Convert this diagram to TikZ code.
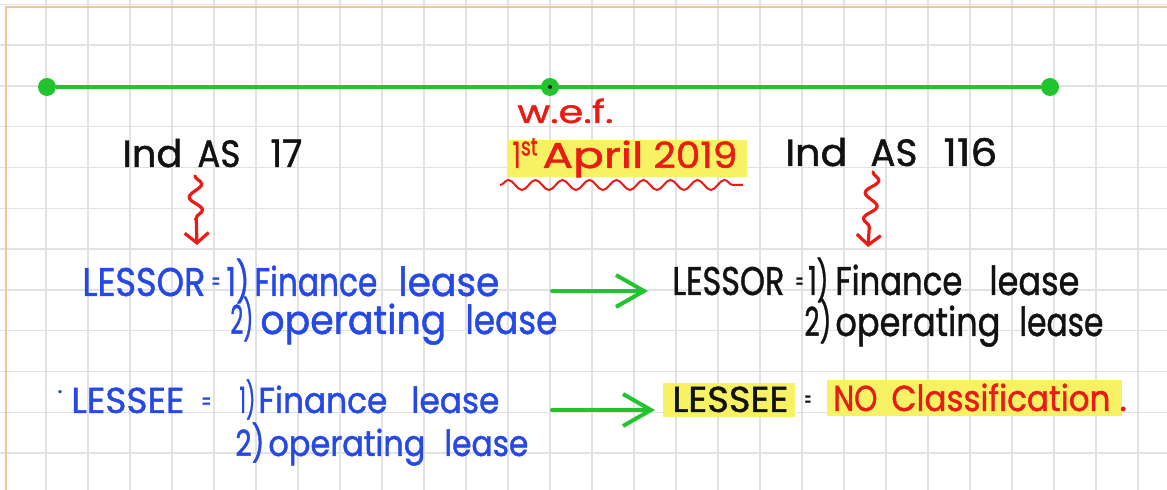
\documentclass[tikz,border=0pt]{standalone}
\usepackage{fontspec}
\usepackage{graphicx}
\usetikzlibrary{decorations.pathmorphing,arrows.meta}

\newfontfamily\handfont[FakeBold=1.2]{Poppins}

\definecolor{gridgray}{RGB}{226,226,226}
\definecolor{pageorange}{RGB}{240,198,145}
\definecolor{linegreen}{RGB}{34,196,46}
\definecolor{penblue}{RGB}{38,72,228}
\definecolor{penred}{RGB}{232,28,20}
\definecolor{penblack}{RGB}{18,18,18}
\definecolor{marker}{RGB}{246,242,100}

% one drawing unit = 0.5pt; words are stretched to a given width in units
\newdimen\unitpx \unitpx=0.5pt
\newcommand\fitw[2]{\resizebox{#1\unitpx}{\height}{#2}}

\tikzset{
  word/.style={inner sep=0pt, anchor=base west},
  big/.style={word, font={\handfont\fontsize{20}{24}\selectfont}},
  mid/.style={word, font={\handfont\fontsize{18}{22}\selectfont}},
  head/.style={word, font={\handfont\fontsize{19}{23}\selectfont}, text=penblack},
  tiny/.style={word, font={\handfont\fontsize{12}{14}\selectfont}},
  dot/.style={circle, fill=linegreen, inner sep=0pt, minimum size=9pt},
  gridline/.style={gridgray, line width=0.7pt},
  squig/.style={penred, line width=1.6pt, line cap=round, decorate,
    decoration={snake, amplitude=3.2pt, segment length=13pt, post length=7pt},
    -{Straight Barb[length=5pt,width=12pt]}},
  goarrow/.style={linegreen, line width=2pt, line cap=round,
    -{Straight Barb[length=14pt,width=16pt,line width=2pt]}},
  hilite/.style={fill=marker, draw=none},
}

\begin{document}
\begin{tikzpicture}[x=0.5pt,y=-0.5pt]
  % paper
  \fill[white] (0,0) rectangle (1167,490);
  \useasboundingbox (0,0) rectangle (1167,490);
  \foreach \k in {1,...,27} \draw[gridline] ({3.8+42*\k},0) -- ({3.8+42*\k},490);
  \foreach \k in {0,...,11} \draw[gridline] (0,{4.3+40.8*\k}) -- (1167,{4.3+40.8*\k});
  \draw[pageorange, line width=1.3pt] (1167,7) -- (6,7) -- (6,490);

  % timeline
  \node[dot] (t1) at (47,87) {};
  \node[dot] (t2) at (550,87) {};
  \node[dot] (t3) at (1050,87) {};
  \draw[linegreen, line width=2pt] (t1) -- (t3);
  \node[circle, fill=penblack, inner sep=0pt, minimum size=2pt] (t2c) at (t2) {};

  % standards
  \node[head] (i17a) at (122,167) {\fitw{60}{Ind}};
  \node[head] (i17b) at (197,167) {\fitw{43}{AS}};
  \node[head] (i17c) at (270,167) {\fitw{32}{17}};
  \node[head] (i116a) at (785,166) {\fitw{62}{Ind}};
  \node[head] (i116b) at (870,166) {\fitw{47}{AS}};
  \node[head] (i116c) at (943,166) {\fitw{54}{116}};

  % effective date
  \fill[hilite] (507,140) rectangle (747,177);
  \node[word, font={\handfont\fontsize{16}{18}\selectfont}, text=penred] (wef) at (517,123) {\fitw{96}{w.e.f.}};
  \node[word, font={\handfont\fontsize{18}{22}\selectfont}, text=penred] (d1) at (512,168) {\fitw{26}{1\textsuperscript{st}}};
  \node[word, font={\handfont\fontsize{18}{22}\selectfont}, text=penred] (d2) at (542,168) {\fitw{101}{April}};
  \node[word, font={\handfont\fontsize{18}{22}\selectfont}, text=penred] (d3) at (653,168) {\fitw{84}{2019}};
  \coordinate (wv1) at (500,185);
  \coordinate (wv2) at (743,185);
  \draw[penred, line width=1pt, decorate, decoration={snake, amplitude=2.5pt, segment length=13.5pt}] (wv1) -- (wv2);

  % squiggly pointers
  \coordinate (sq1s) at (195,176);
  \coordinate (sq1e) at (197,245);
  \coordinate (sq2s) at (873,172);
  \coordinate (sq2e) at (868,247);
  \draw[squig] (sq1s) -- (sq1e);
  \draw[squig] (sq2s) -- (sq2e);

  % Ind AS 17 classification
  \node[big, text=penblue] (b1a) at (82,296) {\fitw{123}{LESSOR}};
  \node[tiny, text=penblue] (b1b) at (211,290) {\fitw{9}{=}};
  \node[big, text=penblue] (b1c) at (226,296) {\fitw{23}{1)}};
  \node[big, text=penblue] (b1d) at (254,296) {\fitw{123}{Finance}};
  \node[big, text=penblue] (b1e) at (398,296) {\fitw{101}{lease}};
  \node[big, text=penblue] (b2a) at (230,334) {\fitw{23}{2)}};
  \node[big, text=penblue] (b2b) at (260,334) {\fitw{186}{operating}};
  \node[big, text=penblue] (b2c) at (465,334) {\fitw{92}{lease}};

  \node[tiny, text=penblue, anchor=center] (b3dot) at (60,395) {·};
  \node[mid, text=penblue] (b3a) at (71,413) {\fitw{113}{LESSEE}};
  \node[tiny, text=penblue] (b3b) at (201,410) {\fitw{10}{=}};
  \node[mid, text=penblue] (b3c) at (239,413) {\fitw{16}{1)}};
  \node[mid, text=penblue] (b3d) at (258,413) {\fitw{129}{Finance}};
  \node[mid, text=penblue] (b3e) at (411,413) {\fitw{88}{lease}};
  \node[mid, text=penblue] (b4a) at (235,456) {\fitw{29}{2)}};
  \node[mid, text=penblue] (b4b) at (268,456) {\fitw{157}{operating}};
  \node[mid, text=penblue] (b4c) at (444,456) {\fitw{84}{lease}};

  % arrows to Ind AS 116
  \coordinate (ga1s) at (552,291);
  \coordinate (ga1e) at (648,291);
  \coordinate (ga2s) at (552,410);
  \coordinate (ga2e) at (655,410);
  \draw[goarrow] (ga1s) -- (ga1e);
  \draw[goarrow] (ga2s) -- (ga2e);

  % Ind AS 116 classification
  \node[big, text=penblack] (k1a) at (672,295) {\fitw{112}{LESSOR}};
  \node[tiny, text=penblack] (k1b) at (795,290) {\fitw{8}{=}};
  \node[big, text=penblack] (k1c) at (808,295) {\fitw{20}{1)}};
  \node[big, text=penblack] (k1d) at (835,295) {\fitw{127}{Finance}};
  \node[big, text=penblack] (k1e) at (989,295) {\fitw{90}{lease}};
  \node[big, text=penblack] (k2a) at (804,336) {\fitw{27}{2)}};
  \node[big, text=penblack] (k2b) at (835,336) {\fitw{165}{operating}};
  \node[big, text=penblack] (k2c) at (1019,336) {\fitw{84}{lease}};

  \fill[hilite] (663,383) rectangle (795,417);
  \fill[hilite] (827,380) rectangle (1122,416);
  \node[mid, text=penblack] (k3a) at (672,412) {\fitw{116}{LESSEE}};
  \node[tiny, text=penblack] (k3b) at (804,408) {\fitw{7}{=}};
  \node[mid, text=penred] (k3c) at (833,411) {\fitw{44}{NO}};
  \node[mid, text=penred] (k3d) at (891,411) {\fitw{219}{Classification}};
  \node[mid, text=penred] (k3e) at (1119,411) {.};
\end{tikzpicture}
\end{document}
